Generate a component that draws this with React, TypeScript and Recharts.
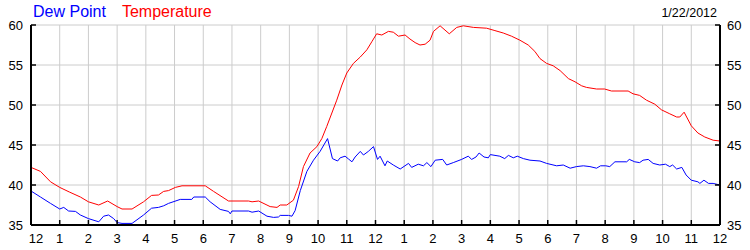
import React from "react";
import { LineChart, Line, XAxis, YAxis, CartesianGrid } from "recharts";

const tempHours = [0, 0.33, 0.68, 1.0, 1.35, 1.72, 2.0, 2.36, 2.67, 3.0, 3.17, 3.52, 3.92, 4.2, 4.44, 4.62, 4.79, 5.03, 5.26, 6.07, 6.36, 6.88, 7.58, 7.7, 7.93, 8.33, 8.57, 8.68, 8.91, 9.14, 9.32, 9.49, 9.72, 9.96, 10.13, 10.3, 10.48, 10.65, 10.83, 11.0, 11.23, 11.47, 11.7, 11.87, 12.04, 12.22, 12.45, 12.62, 12.8, 13.03, 13.2, 13.38, 13.55, 13.73, 13.9, 14.02, 14.25, 14.57, 14.83, 15.06, 15.41, 15.87, 16.16, 16.45, 16.74, 17.03, 17.32, 17.55, 17.73, 17.96, 18.19, 18.43, 18.72, 18.95, 19.18, 19.35, 19.7, 19.98, 20.22, 20.8, 20.97, 21.2, 21.44, 21.73, 21.96, 22.25, 22.49, 22.6, 22.75, 23.0, 23.23, 23.47, 23.76, 24.0];
const tempValues = [42.2, 41.7, 40.4, 39.7, 39.1, 38.5, 37.9, 37.5, 38.0, 37.3, 37.0, 37.0, 37.9, 38.7, 38.75, 39.2, 39.3, 39.7, 39.9, 39.9, 39.2, 38.0, 38.0, 37.9, 38.0, 37.3, 37.2, 37.5, 37.5, 38.1, 39.8, 42.3, 44.0, 44.8, 45.8, 47.3, 49.0, 50.6, 52.5, 54.0, 55.2, 56.0, 56.9, 57.9, 58.9, 58.75, 59.2, 59.1, 58.6, 58.75, 58.25, 57.8, 57.5, 57.6, 58.1, 59.2, 59.9, 58.9, 59.7, 59.9, 59.7, 59.6, 59.3, 59.0, 58.6, 58.1, 57.5, 56.7, 55.8, 55.2, 54.9, 54.3, 53.3, 52.9, 52.4, 52.2, 52.0, 52.0, 51.75, 51.75, 51.4, 51.2, 50.6, 50.1, 49.4, 48.9, 48.5, 48.5, 49.1, 47.4, 46.5, 46.0, 45.6, 45.5];

const dewHours = [0, 0.33, 0.68, 1.0, 1.14, 1.31, 1.55, 1.72, 2.0, 2.36, 2.53, 2.7, 2.88, 3.0, 3.17, 3.52, 3.92, 4.2, 4.44, 4.62, 4.79, 5.2, 5.6, 5.67, 6.07, 6.24, 6.59, 6.88, 6.94, 7.0, 7.58, 7.7, 7.93, 8.22, 8.45, 8.62, 8.68, 8.97, 9.09, 9.2, 9.38, 9.61, 9.84, 10.07, 10.33, 10.5, 10.68, 10.77, 10.94, 11.06, 11.18, 11.29, 11.47, 11.58, 11.75, 11.93, 12.07, 12.16, 12.33, 12.41, 12.62, 12.86, 13.15, 13.26, 13.49, 13.67, 13.79, 13.93, 14.08, 14.34, 14.48, 14.71, 15.0, 15.23, 15.35, 15.5, 15.61, 15.78, 15.93, 16.0, 16.33, 16.5, 16.63, 16.8, 16.94, 17.15, 17.38, 17.73, 17.96, 18.31, 18.54, 18.78, 19.0, 19.24, 19.47, 19.7, 19.84, 20.02, 20.16, 20.34, 20.75, 20.84, 21.03, 21.2, 21.32, 21.5, 21.67, 21.9, 22.1, 22.25, 22.35, 22.49, 22.67, 22.82, 23.0, 23.23, 23.3, 23.44, 23.6, 23.76, 24.0];
const dewValues = [39.25, 38.5, 37.7, 37.0, 37.2, 36.75, 36.7, 36.25, 35.8, 35.4, 36.1, 36.25, 35.8, 35.3, 35.2, 35.2, 36.25, 37.1, 37.2, 37.4, 37.7, 38.2, 38.2, 38.5, 38.5, 37.9, 36.95, 36.7, 36.4, 36.75, 36.75, 36.6, 36.75, 36.1, 35.95, 36.0, 36.2, 36.2, 36.1, 36.8, 39.3, 41.7, 43.1, 44.2, 45.8, 43.3, 43.0, 43.4, 43.6, 43.25, 42.9, 43.5, 44.2, 43.75, 44.2, 44.8, 43.2, 43.6, 42.4, 43.0, 42.5, 42.0, 42.7, 42.2, 42.6, 42.4, 42.8, 42.3, 43.1, 43.2, 42.5, 42.8, 43.2, 43.6, 43.2, 43.5, 44.0, 43.5, 43.4, 43.8, 43.6, 43.3, 43.7, 43.4, 43.6, 43.3, 43.1, 43.0, 42.7, 42.4, 42.5, 42.1, 42.3, 42.4, 42.3, 42.1, 42.4, 42.4, 42.3, 42.9, 42.9, 43.2, 42.9, 42.8, 43.1, 43.2, 42.7, 42.5, 42.6, 42.3, 42.5, 42.0, 42.2, 41.25, 40.6, 40.4, 40.2, 40.6, 40.2, 40.2, 40.0];

const hourTicks = [0, 1, 2, 3, 4, 5, 6, 7, 8, 9, 10, 11, 12, 13, 14, 15, 16, 17, 18, 19, 20, 21, 22, 23, 24];
const yTicks = [35, 40, 45, 50, 55, 60];
const seriesNames = ["Dew Point", "Temperature"];
const dateLabel = "1/22/2012";

const tempData = tempHours.map((h, i) => ({ h, v: tempValues[i] }));
const dewData = dewHours.map((h, i) => ({ h, v: dewValues[i] }));

const FONT = "'Liberation Sans', Arial, sans-serif";

const hourLabel = (h: number) => {
  const m = h % 12;
  return m === 0 ? "12" : String(m);
};

const XTick = (props: any) => {
  const { x, y, payload, index } = props;
  return (
    <text
      x={x + (index === 0 ? 5 : 0)}
      y={y}
      dy="0.71em"
      textAnchor="middle"
      fill="#000"
      fontSize={13}
      fontFamily={FONT}
    >
      {hourLabel(payload.value)}
    </text>
  );
};

export default function App() {
  return (
    <div style={{ position: "absolute", left: 0, top: 0, width: 750, height: 250, background: "#fff" }}>
      <div
        style={{
          position: "absolute",
          left: 33,
          top: 4,
          fontFamily: FONT,
          fontSize: 16,
          lineHeight: "16px",
          whiteSpace: "nowrap",
        }}
      >
        <span style={{ color: "#0000ff" }}>{seriesNames[0]}</span>
        <span style={{ color: "#ff0000", marginLeft: 16 }}>{seriesNames[1]}</span>
      </div>
      <div
        style={{
          position: "absolute",
          right: 33,
          top: 7,
          fontFamily: FONT,
          fontSize: 12.5,
          lineHeight: "12.5px",
          color: "#000",
          whiteSpace: "nowrap",
        }}
      >
        {dateLabel}
      </div>
      <LineChart
        width={750}
        height={250}
        margin={{ top: 25, right: 0, bottom: 0, left: 0 }}
        style={{ position: "absolute", left: 0, top: 0 }}
      >
        <CartesianGrid stroke="#cccccc" strokeWidth={1} xAxisId="bottom" yAxisId="left" />
        <XAxis
          xAxisId="bottom"
          dataKey="h"
          type="number"
          domain={[0, 24]}
          ticks={hourTicks}
          interval={0}
          height={25}
          allowDataOverflow
          axisLine={{ stroke: "#000", strokeWidth: 2 }}
          tickLine={{ stroke: "#000", strokeWidth: 1.5 }}
          tickSize={-5}
          tickMargin={14}
          tick={<XTick />}
        />
        <XAxis
          xAxisId="top"
          orientation="top"
          dataKey="h"
          type="number"
          domain={[0, 24]}
          ticks={hourTicks}
          interval={0}
          height={0}
          allowDataOverflow
          axisLine={{ stroke: "#000", strokeWidth: 2 }}
          tickLine={{ stroke: "#000", strokeWidth: 1.5 }}
          tickSize={-5}
          tick={false}
        />
        <YAxis
          yAxisId="left"
          orientation="left"
          type="number"
          domain={[35, 60]}
          ticks={yTicks}
          interval={0}
          width={31}
          allowDataOverflow
          axisLine={{ stroke: "#000", strokeWidth: 2 }}
          tickLine={{ stroke: "#000", strokeWidth: 1.5 }}
          tickSize={-5}
          tickMargin={13}
          tick={{ fill: "#000", fontSize: 13, fontFamily: FONT }}
        />
        <YAxis
          yAxisId="right"
          orientation="right"
          type="number"
          domain={[35, 60]}
          ticks={yTicks}
          interval={0}
          width={30}
          allowDataOverflow
          axisLine={{ stroke: "#000", strokeWidth: 2 }}
          tickLine={{ stroke: "#000", strokeWidth: 1.5 }}
          tickSize={-5}
          tickMargin={12}
          tick={{ fill: "#000", fontSize: 13, fontFamily: FONT }}
        />
        <Line
          xAxisId="bottom"
          yAxisId="left"
          data={tempData}
          dataKey="v"
          stroke="#ff0000"
          strokeWidth={1}
          dot={false}
          activeDot={false}
          isAnimationActive={false}
        />
        <Line
          xAxisId="bottom"
          yAxisId="left"
          data={dewData}
          dataKey="v"
          stroke="#0000ff"
          strokeWidth={1}
          dot={false}
          activeDot={false}
          isAnimationActive={false}
        />
      </LineChart>
    </div>
  );
}
